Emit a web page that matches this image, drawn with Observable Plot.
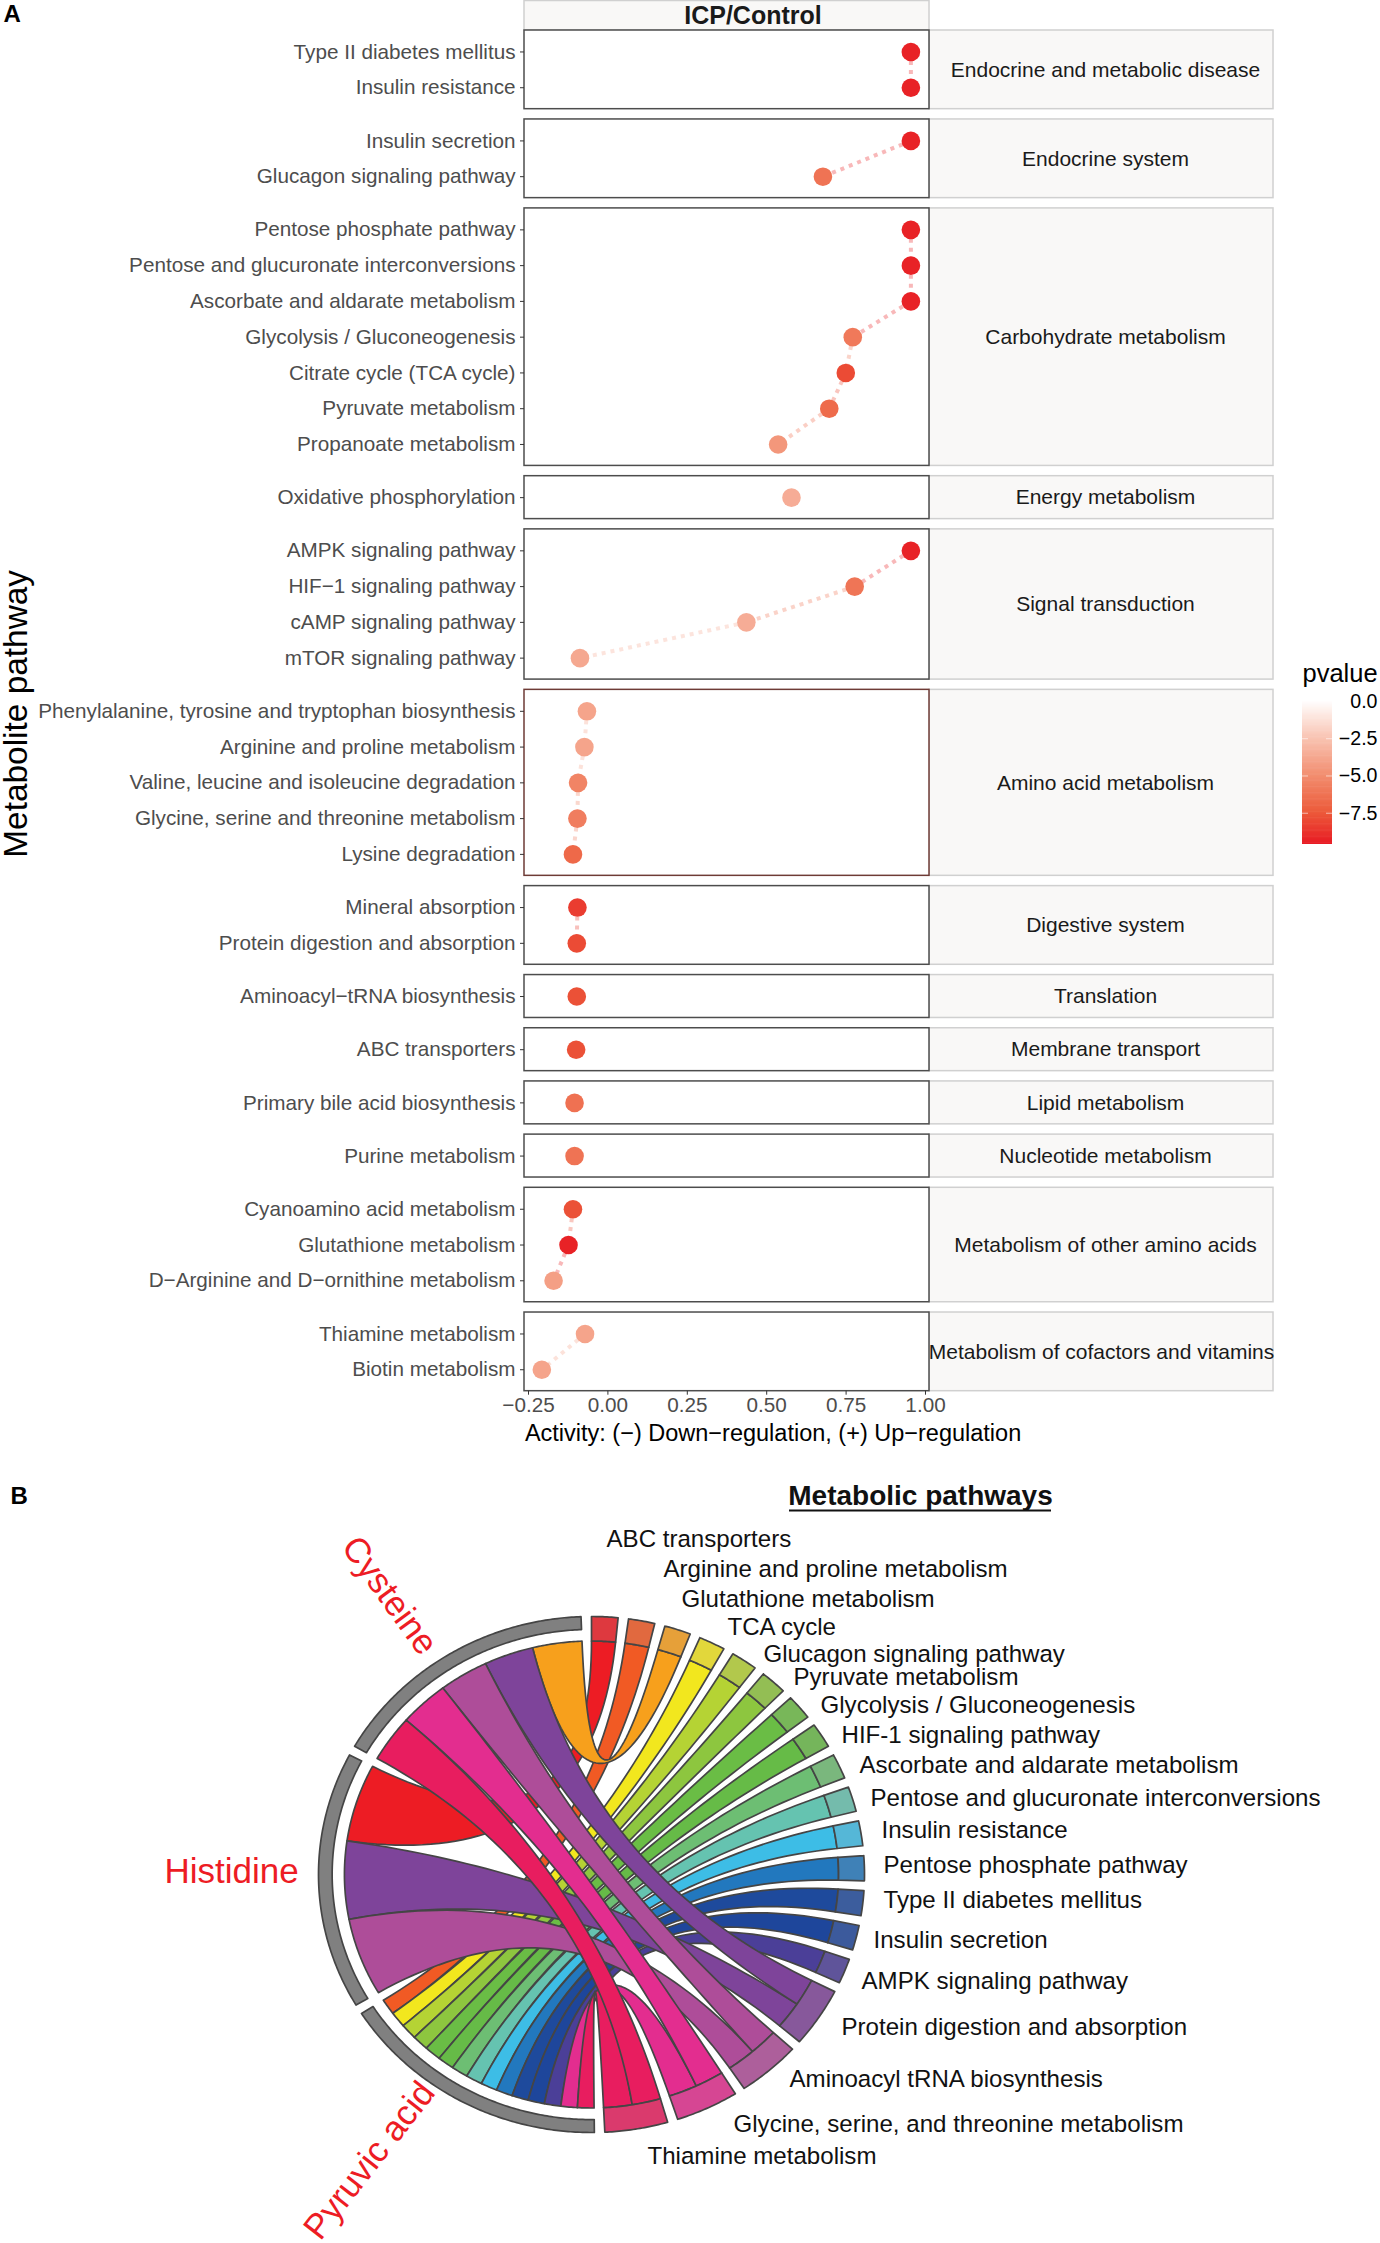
<!DOCTYPE html>
<html><head><meta charset="utf-8">
<script src="https://cdn.jsdelivr.net/npm/d3@7"></script>
<script src="https://cdn.jsdelivr.net/npm/@observablehq/plot@0.6"></script>
<style>
html,body{margin:0;background:#fff}
#page{position:relative;width:1380px;height:2243px;font-family:"Liberation Sans",Arial,sans-serif;overflow:hidden}
#page>div{position:absolute}
svg{display:block;background:transparent}
</style></head><body><div id="page"><div id="a" style="left:0;top:0"></div><div id="lg" style="left:1290px;top:650px"></div><div id="b" style="left:0;top:1470px"></div></div>
<script>
// ---------- Panel A data ----------
const facetNames = ["Endocrine and metabolic disease","Endocrine system","Carbohydrate metabolism","Energy metabolism","Signal transduction","Amino acid metabolism","Digestive system","Translation","Membrane transport","Lipid metabolism","Nucleotide metabolism","Metabolism of other amino acids","Metabolism of cofactors and vitamins"];
const facetSizes = [2,2,7,1,4,5,2,1,1,1,1,3,2];
const pathwayNames = ["Type II diabetes mellitus","Insulin resistance","Insulin secretion","Glucagon signaling pathway","Pentose phosphate pathway","Pentose and glucuronate interconversions","Ascorbate and aldarate metabolism","Glycolysis / Gluconeogenesis","Citrate cycle (TCA cycle)","Pyruvate metabolism","Propanoate metabolism","Oxidative phosphorylation","AMPK signaling pathway","HIF−1 signaling pathway","cAMP signaling pathway","mTOR signaling pathway","Phenylalanine, tyrosine and tryptophan biosynthesis","Arginine and proline metabolism","Valine, leucine and isoleucine degradation","Glycine, serine and threonine metabolism","Lysine degradation","Mineral absorption","Protein digestion and absorption","Aminoacyl−tRNA biosynthesis","ABC transporters","Primary bile acid biosynthesis","Purine metabolism","Cyanoamino acid metabolism","Glutathione metabolism","D−Arginine and D−ornithine metabolism","Thiamine metabolism","Biotin metabolism"];
const pathwayActivity = [.954,.954,.954,.677,.954,.954,.954,.771,.749,.697,.536,.578,.954,.777,.436,-.088,-.066,-.074,-.094,-.096,-.11,-.096,-.098,-.098,-.1,-.105,-.105,-.11,-.124,-.171,-.072,-.208];
const pathwayLogP = [-9.4,-9.4,-9.4,-6.3,-9.4,-9.4,-9.4,-6,-8,-6.7,-4.6,-3.6,-9.4,-6.2,-3.6,-3.8,-4,-4,-5.5,-5.8,-6.8,-8.5,-8,-7.8,-7.8,-6.4,-6.3,-7.8,-9.4,-4.2,-4,-4];
const xTicks = [-.25,0,.25,.5,.75,1];
const legendTicks = [0,-2.5,-5,-7.5];

// ---------- Panel B data ----------
const chordTargets = ["ABC transporters","Arginine and proline metabolism","Glutathione metabolism","TCA cycle","Glucagon signaling pathway","Pyruvate metabolism","Glycolysis / Gluconeogenesis","HIF-1 signaling pathway","Ascorbate and aldarate metabolism","Pentose and glucuronate interconversions","Insulin resistance","Pentose phosphate pathway","Type II diabetes mellitus","Insulin secretion","AMPK signaling pathway","Protein digestion and absorption","Aminoacyl tRNA biosynthesis","Glycine, serine, and threonine metabolism","Thiamine metabolism"];
const chordColors = ["#ed1c24","#f15a24","#f7a01c","#f2e71e","#b5d334","#8dc63f","#6abd45","#66bb47","#6dbe73","#65c3b0","#3dbde6","#2278be","#1e4a9c","#1e469b","#4b3f98","#7e449a","#ae4d99","#e32d8f","#e81d5f"];
const pyruvicLinks = [1,3,4,5,6,7,8,9,10,11,12,13,14,17,18];
const histidineLinks = [0,15,16];
const cysteineLinks = [2,15,16,17,18];
const chordSources = ["Pyruvic acid","Histidine","Cysteine"];
const chordLabelX = [606,663,681,727,763,793,820,841,859,870,881,883,883,873,861,841,789,733,647];
const chordLabelY = [1539,1569,1599,1627,1654,1677,1705,1735,1765,1798,1830,1865,1900,1940,1981,2027,2079,2124,2156];

const FONT = '"Liberation Sans",Arial,sans-serif';
const logpScale = {type:"linear",domain:[-9.6,-7.5,-5,-2.5,0],range:["#e81c24","#ec5a3a","#f28e70","#f9c4b3","#ffffff"]};

// ---------- Panel A layout in row units ----------
const PAD = 0.6, GAP = 0.287;
const rows = [], facets = [];
{
  let pos = 0, k = 0;
  facetNames.forEach((name,f)=>{
    const top = pos; pos += PAD;
    for(let i=0;i<facetSizes[f];i++){
      rows.push({name:pathwayNames[k],activity:pathwayActivity[k],logp:pathwayLogP[k],facet:name,y:pos+i}); k++;
    }
    pos += facetSizes[f]-1+PAD;
    facets.push({name,top,bottom:pos,mid:(top+pos)/2});
    pos += GAP;
  });
}
const totalUnits = facets[facets.length-1].bottom;
const A_H = 1470, A_TOP = 30, A_BOT = 1390.7, A_L = 524, A_R = 929;
const xDom = [-0.2626,1.0126];
const unitX = (A_R-A_L)/(xDom[1]-xDom[0]), unitY = (A_BOT-A_TOP)/totalUnits;
const stripEnd = xDom[1] + 344/unitX;
const stripCx = d => xDom[1] + (d.name.includes("cofactors") ? 172 : 176)/unitX;
const labelByY = new Map(rows.map(r=>[r.y,r.name]));

document.getElementById("a").append(Plot.plot({
  width:1380,height:A_H,marginLeft:A_L,marginRight:1380-A_R,marginTop:A_TOP,marginBottom:A_H-A_BOT,
  style:{fontFamily:FONT,background:"transparent",overflow:"visible"},
  x:{domain:xDom,label:null},
  y:{domain:[0,totalUnits],reverse:true,label:null},
  color:logpScale,
  marks:[
    Plot.rect(facets,{x1:()=>xDom[1],x2:()=>stripEnd,y1:"top",y2:"bottom",fill:"#f9f8f7",stroke:"#d0d0d0",strokeWidth:1.5}),
    Plot.rect(["ICP/Control"],{x1:()=>xDom[0],x2:()=>xDom[1],y1:()=>-29.5/unitY,y2:()=>0,fill:"#f9f8f7",stroke:"#d0d0d0",strokeWidth:1.5}),
    Plot.text(["ICP/Control"],{x:()=>(xDom[0]+xDom[1])/2+26/unitX,y:()=>-15/unitY,text:d=>d,fontSize:25,fontWeight:"bold",fill:"#1a1a1a"}),
    Plot.text(facets,{x:stripCx,y:"mid",text:"name",fontSize:21,fill:"#1a1a1a"}),
    Plot.rect(facets,{x1:()=>xDom[0],x2:()=>xDom[1],y1:"top",y2:"bottom",fill:"#fff",stroke:d=>d.name==="Amino acid metabolism"?"#6e3b36":"#4d4d4d",strokeWidth:1.5}),
    Plot.line(rows,{x:"activity",y:"y",z:"facet",stroke:"logp",strokeOpacity:0.32,strokeWidth:4,strokeDasharray:"4 5",strokeLinecap:"butt"}),
    Plot.dot(rows,{x:"activity",y:"y",r:9.3,fill:"logp"}),
    Plot.axisY({anchor:"left",ticks:rows.map(r=>r.y),tickFormat:d=>labelByY.get(d),tickSize:4,tickPadding:5,fontSize:20.7,color:"#4d4d4d",label:null,stroke:"#333"}),
    Plot.axisX({anchor:"bottom",ticks:xTicks,tickFormat:d3.format(".2f"),tickSize:4,tickPadding:2,fontSize:20.7,color:"#4d4d4d",label:null,stroke:"#333"}),
    Plot.text(["Activity: (−) Down−regulation, (+) Up−regulation"],{x:()=>0.52,frameAnchor:"bottom",dy:42,text:d=>d,fontSize:23.5,fill:"#000",lineAnchor:"middle"}),
    Plot.text(["Metabolite pathway"],{frameAnchor:"left",dx:-508,dy:3,rotate:-90,text:d=>d,textAnchor:"middle",fontSize:33.4,fill:"#000"}),
    Plot.text(["A"],{frameAnchor:"top-left",dx:-521,dy:-16,text:d=>d,fontSize:24,fontWeight:"bold",fill:"#000",lineAnchor:"middle"})
  ]
}));

// ---------- legend ----------
const STEP = 0.08;
document.getElementById("lg").append(Plot.plot({
  width:90,height:210,marginLeft:12,marginRight:48,marginTop:51,marginBottom:16,
  style:{fontFamily:FONT,background:"transparent",overflow:"visible"},
  x:{domain:[0,1],axis:null},
  y:{domain:[-9.6,0],label:null,axis:null},
  color:logpScale,
  marks:[
    Plot.rect(d3.range(-9.6,0,STEP),{x1:()=>0,x2:()=>1,y1:d=>d,y2:d=>Math.min(0,d+STEP*1.5),fill:d=>d}),
    Plot.ruleY(legendTicks.slice(1),{x1:()=>0,x2:()=>0.2,stroke:"#fff",strokeOpacity:0.6,strokeWidth:1}),
    Plot.ruleY(legendTicks.slice(1),{x1:()=>0.8,x2:()=>1,stroke:"#fff",strokeOpacity:0.6,strokeWidth:1}),
    Plot.axisY({anchor:"right",ticks:legendTicks,tickFormat:d3.format(".1f"),tickSize:0,tickPadding:45,textAnchor:"end",fontSize:19.6,color:"#000",label:null}),
    Plot.text(["pvalue"],{frameAnchor:"top-left",dx:0,dy:-28,lineAnchor:"middle",text:d=>d,fontSize:25.5,textAnchor:"start",fill:"#000"})
  ]
}));

// ---------- Panel B chord layout (degrees clockwise from top) ----------
const SMALL = 5.6, LARGE = 13.4, GAPDEG = 2.2, R_IN = 0.905, R_GRAY = 0.95;
const rad = d=>d*Math.PI/180;
const pol = (deg,r)=>({x:r*Math.sin(rad(deg)),y:r*Math.cos(rad(deg))});
const arc = (a,b,r)=>{const n=Math.max(2,Math.ceil(Math.abs(b-a)/0.5));return d3.range(n+1).map(i=>pol(a+(b-a)*i/n,r));};
const bez = (p,q)=>d3.range(1,48).map(i=>{const t=i/48,u=1-t;return {x:u*u*p.x+t*t*q.x,y:u*u*p.y+t*t*q.y};});
const sourceLinks = [pyruvicLinks,histidineLinks,cysteineLinks];
const linkCount = chordTargets.map((_,i)=>sourceLinks.filter(l=>l.includes(i)).length);
const tSpan = linkCount.map(c=>c>1?LARGE:SMALL);
const tStart = []; {let a=0; tSpan.forEach(s=>{tStart.push(a);a+=s+GAPDEG;});}
const tEnd = tStart[tStart.length-1]+tSpan[tSpan.length-1];
const srcSpan = (360-d3.sum(tSpan)-GAPDEG*(chordTargets.length+chordSources.length))/3;
const srcStart = [0,1,2].map(i=>tEnd+GAPDEG+i*(srcSpan+GAPDEG));
// a target with two links gives its first half to Cysteine
const targetSlice = (s,t)=>{
  const w=tSpan[t]/linkCount[t];
  const first = linkCount[t]===1 || s===2;
  const b0 = tStart[t]+(first?0:w);
  return [b0,b0+w];
};
// on a source, the later target takes the earlier angle
const sourceSlice = (s,t)=>{
  const ls=[...sourceLinks[s]].sort((p,q)=>q-p), w=srcSpan/ls.length, i=ls.indexOf(t);
  return [srcStart[s]+i*w,srcStart[s]+(i+1)*w];
};
const polys = [];
const addPoly = (id,fill,pts)=>{pts.push(pts[0]);pts.forEach(p=>polys.push({id,fill,x:p.x,y:p.y}));};
sourceLinks.forEach((ls,s)=>ls.forEach(t=>{
  const [a0,a1]=sourceSlice(s,t), b=targetSlice(s,t);
  const A=arc(a0,a1,R_IN), B=arc(b[0],b[1],R_IN);
  addPoly("l"+s+"-"+t,chordColors[t],[...A,...bez(A[A.length-1],B[0]),...B,...bez(B[B.length-1],A[0])]);
}));
chordTargets.forEach((name,t)=>{
  const c=d3.rgb(d3.interpolateRgb(chordColors[t],"#a8a0a0")(0.22)).formatHex();
  addPoly("t"+t,c,[...arc(tStart[t],tStart[t]+tSpan[t],1),...arc(tStart[t]+tSpan[t],tStart[t],R_IN)]);
});
chordSources.forEach((name,s)=>{
  addPoly("s"+s,"#808080",[...arc(srcStart[s],srcStart[s]+srcSpan,1),...arc(srcStart[s]+srcSpan,srcStart[s],R_GRAY)]);
});
const CX=591,CY=1874,RX=273,RY=258,B_TOP=1470,B_H=773;
const px2x=p=>(p-CX)/RX, px2y=p=>(CY-p)/RY;
const chordText=chordTargets.map((name,i)=>({name,x:px2x(chordLabelX[i]),y:px2y(chordLabelY[i])}));
const srcLabels=[
  {name:"Histidine",x:px2x(231),y:px2y(1871),rotate:0},
  {name:"Cysteine",x:px2x(389),y:px2y(1595),rotate:54},
  {name:"Pyruvic acid",x:px2x(369),y:px2y(2160),rotate:-52}
];
document.getElementById("b").append(Plot.plot({
  width:1380,height:B_H,marginLeft:CX-RX,marginRight:1380-CX-RX,marginTop:CY-RY-B_TOP,marginBottom:B_H-(CY+RY-B_TOP),
  style:{fontFamily:FONT,background:"transparent",overflow:"visible"},
  x:{domain:[-1,1],axis:null},y:{domain:[-1,1],axis:null},
  color:{type:"identity"},
  marks:[
    Plot.line(polys,{x:"x",y:"y",z:"id",fill:"fill",stroke:"#454545",strokeWidth:1.7,curve:"linear"}),
    Plot.text(chordText,{x:"x",y:"y",text:"name",textAnchor:"start",fontSize:24.1,fill:"#111"}),
    Plot.text(srcLabels,{x:"x",y:"y",text:"name",rotate:"rotate",fontSize:35,fill:"#ed1c24"}),
    Plot.text(["B"],{x:()=>px2x(10),y:()=>px2y(1496),text:d=>d,textAnchor:"start",fontSize:24,fontWeight:"bold",fill:"#000"}),
    Plot.text(["Metabolic pathways"],{x:()=>px2x(920),y:()=>px2y(1496),text:d=>d,fontSize:28,fontWeight:"bold",fill:"#111"}),
    Plot.ruleY(["Metabolic pathways"],{y:()=>px2y(1510),x1:()=>px2x(789),x2:()=>px2x(1051),stroke:"#111",strokeWidth:2})
  ]
}));
</script></body></html>
